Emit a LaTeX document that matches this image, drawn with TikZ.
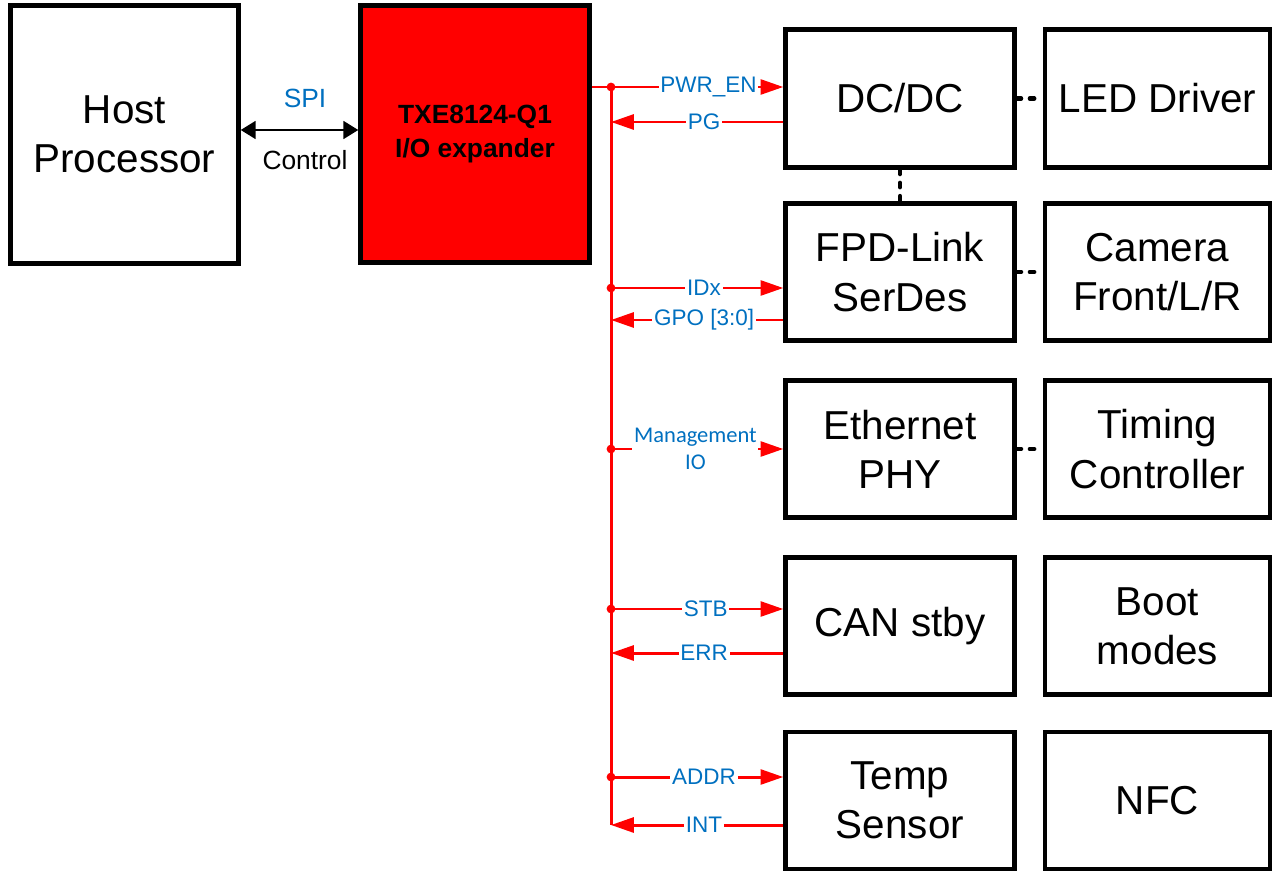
\documentclass[tikz,border=0pt]{standalone}
\usepackage{fontspec}
\setmainfont{Liberation Sans}
\newfontfamily\carlito{Carlito}
\usetikzlibrary{arrows.meta}
\definecolor{tiblue}{RGB}{0,112,192}
\begin{document}
\begin{tikzpicture}[x=0.02cm,y=-0.02cm,
        blk/.style={draw,line width=2.5pt,minimum width=4.58cm,minimum height=2.74cm,
            inner sep=0pt,align=center,font=\fontsize{23}{28}\selectfont},
        sig/.style={red,line width=1.7pt},
        tip/.style={-{Triangle[length=13pt,width=8.5pt]}},
        lbl/.style={fill=white,inner sep=1pt,text=tiblue,font=\fontsize{12.8}{15}\selectfont},
        link/.style={line width=2.5pt,dash pattern=on 2.5pt off 5pt,line cap=round},
        dot/.style={circle,fill=red,minimum size=5pt,inner sep=0pt}]
\useasboundingbox (0,0) rectangle (1273,871);

% left side
\node[blk,minimum width=4.56cm,minimum height=5.16cm] (host) at (124.5,134.5) {Host\\Processor};
\node[blk,fill=red,minimum height=5.14cm,font=\fontsize{15}{19.5}\selectfont\bfseries] (txe) at (475,134) {TXE8124-Q1\\I/O expander};
\draw[line width=1.7pt,{Triangle[length=8.5pt,width=10pt]}-{Triangle[length=8.5pt,width=10pt]}]
    (host.east |- 0,130) -- (txe.west |- 0,130);
\node[text=tiblue,font=\fontsize{15}{18}\selectfont] (spi) at (305,98) {SPI};
\node[font=\fontsize{15}{18}\selectfont] (ctrl) at (305,160) {Control};

% right columns
\node[blk,minimum height=2.76cm] (dcdc) at (900,98.5) {DC/DC};
\node[blk,minimum height=2.76cm,minimum width=4.5cm] (led) at (1157.5,98.5) {LED Driver};
\node[blk] (fpd) at (900,272) {FPD-Link\\SerDes};
\node[blk,minimum width=4.5cm] (cam) at (1157.5,272) {Camera\\Front/L/R};
\node[blk] (eth) at (900,449) {Ethernet\\PHY};
\node[blk,minimum width=4.5cm] (tim) at (1157.5,449) {Timing\\Controller};
\node[blk] (can) at (900,626) {CAN stby};
\node[blk,minimum width=4.5cm] (boot) at (1157.5,626) {Boot\\modes};
\node[blk] (temp) at (900,800.5) {Temp\\Sensor};
\node[blk,minimum width=4.5cm] (nfc) at (1157.5,800.5) {NFC};

\draw[link] (dcdc) -- (led);
\draw[link] (dcdc) -- (fpd);
\draw[link] (fpd) -- (cam);
\draw[link] (eth) -- (tim);

% bus taps
\coordinate (tPWR) at (611,87);
\coordinate (tPG) at (611,122);
\coordinate (tIDX) at (611,288);
\coordinate (tGPO) at (611,320);
\coordinate (tMGT) at (611,449);
\coordinate (tSTB) at (611,609);
\coordinate (tERR) at (611,653);
\coordinate (tADR) at (611,777);
\coordinate (tINT) at (611,825);

\draw[sig] (tPWR) -- (tINT);
\draw[sig,tip] (txe.east |- tPWR) -- node[lbl,pos=0.61] {PWR\_EN} (dcdc.west |- tPWR);
\draw[sig,tip] (dcdc.west |- tPG) -- node[lbl,pos=0.46] {PG} (tPG);
\draw[sig,tip] (tIDX) -- node[lbl,pos=0.54] {IDx} (fpd.west |- tIDX);
\draw[sig,tip] (fpd.west |- tGPO) -- node[lbl,pos=0.46] {GPO [3:0]} (tGPO);
\draw[sig,tip] (tMGT) -- node[lbl,pos=0.49,align=center,font=\carlito\fontsize{12.8}{15.5}\selectfont] {Management\\IO} (eth.west |- tMGT);
\draw[sig,tip] (tSTB) -- node[lbl,pos=0.55] {STB} (can.west |- tSTB);
\draw[sig,tip] (can.west |- tERR) -- node[lbl,pos=0.46] {ERR} (tERR);
\draw[sig,tip] (tADR) -- node[lbl,pos=0.54] {ADDR} (temp.west |- tADR);
\draw[sig,tip] (temp.west |- tINT) -- node[lbl,pos=0.46] {INT} (tINT);

\foreach \t in {tPWR,tIDX,tMGT,tSTB,tADR}
    \node[dot] at (\t) {};
\end{tikzpicture}
\end{document}
